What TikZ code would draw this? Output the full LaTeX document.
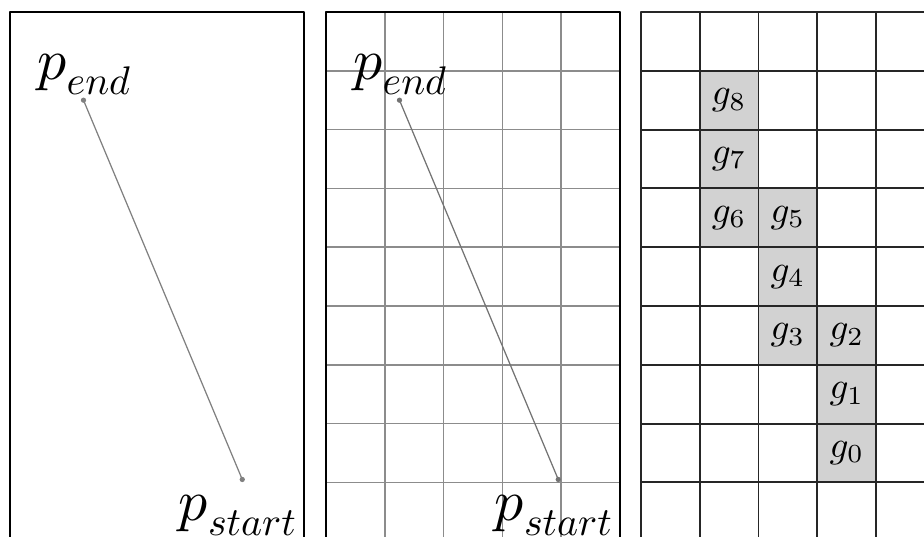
\documentclass[tikz,border=0pt]{standalone}
\usepackage{amsmath}
\usepackage{xcolor}
\usepackage{graphicx}
\usetikzlibrary{calc}

% smaller, lower subscript, drawn from text-size glyphs
\newcommand{\subtxt}[1]{\raisebox{-1.2pt}{\scalebox{0.69}{$#1$}}}

\begin{document}
\begin{tikzpicture}[line cap=round, line join=round]
    \useasboundingbox (0,0) rectangle (15.714,-9.116);
    \clip (0,0) rectangle (15.714,-9.116);

    % --- plain panel ---
    \begin{scope}[shift={(0.17,-0.204)}]
      \draw[line width=0.9pt] (0,0) rectangle (5,-9);
      \coordinate (E1) at (1.25,-1.5);
      \coordinate (S1) at (3.95,-7.95);
      \draw[gray, line width=0.6pt] (E1)--(S1);
      \fill[gray] (E1) circle (0.045) (S1) circle (0.045);
      \node[anchor=base west, scale=2.8, inner sep=0] (pe1) at (0.45,-1.14) {$p_{\subtxt{end}}$};
      \node[anchor=base east, scale=2.8, inner sep=0] (ps1) at (4.93,-8.64) {$p_{\subtxt{start}}$};
    \end{scope}

    % --- panel with grid ---
    \begin{scope}[shift={(5.544,-0.204)}]
      \draw[gray!90, line width=0.7pt] (0,0) grid (5,-9);
      \draw[line width=0.9pt] (0,0) rectangle (5,-9);
      \coordinate (E2) at (1.25,-1.5);
      \coordinate (S2) at (3.95,-7.95);
      \draw[gray!90!black, line width=0.6pt] (E2)--(S2);
      \fill[gray!90!black] (E2) circle (0.045) (S2) circle (0.045);
      \node[anchor=base west, scale=2.8, inner sep=0] (pe2) at (0.45,-1.14) {$p_{\subtxt{end}}$};
      \node[anchor=base east, scale=2.8, inner sep=0] (ps2) at (4.93,-8.64) {$p_{\subtxt{start}}$};
    \end{scope}

    % --- rasterised cells ---
    \begin{scope}[shift={(10.90,-0.204)}]
      % shaded cells, column/row/index
      \foreach \c/\r/\i in {3/7/0,3/6/1,3/5/2,2/5/3,2/4/4,2/3/5,1/3/6,1/2/7,1/1/8}{
        \fill[gray!35] (\c,-\r) rectangle (\c+1,-\r-1);
        \node[scale=1.8] (g\i) at (\c+0.5,-\r-0.5) {$g_{\i}$};
      }
      \draw[black!85, line width=0.9pt] (0,0) grid (5,-9);
    \end{scope}
\end{tikzpicture}
\end{document}
